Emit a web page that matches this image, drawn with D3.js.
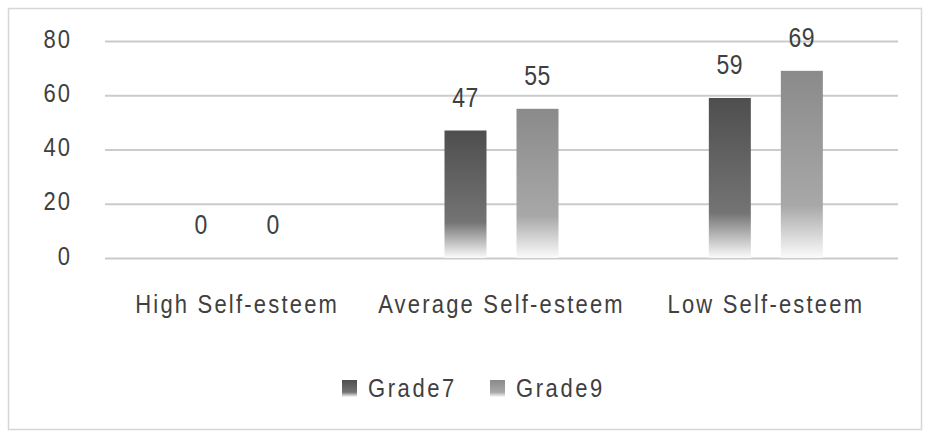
<!DOCTYPE html>
<html>
<head>
<meta charset="utf-8">
<script src="https://cdn.jsdelivr.net/npm/d3@7"></script>
<style>
  html, body { margin: 0; padding: 0; background: #fff; }
  svg text { font-family: "Liberation Sans", Arial, sans-serif; fill: #404040; }
</style>
</head>
<body>
<svg id="chart" width="931" height="438"></svg>
<script>
// Chart data
const categories = ["High Self-esteem", "Average Self-esteem", "Low Self-esteem"];
const seriesNames = ["Grade7", "Grade9"];
const grade7 = [0, 47, 59];
const grade9 = [0, 55, 69];
const yTicks = [0, 20, 40, 60, 80];

const svg = d3.select("#chart");
const W = 931, H = 438;
const margin = { left: 105, right: 33, top: 41, bottom: 180 };
const plotW = W - margin.left - margin.right;
const plotH = H - margin.top - margin.bottom;
const SY = 1.18; // tall, narrow lettering

// Place a text node at a baseline point, stretched vertically
function placeText(sel, x, y) {
  sel.attr("x", 0).attr("y", 0).attr("dy", null)
    .attr("transform", `translate(${x},${y}) scale(1,${SY})`);
}

// Outer frame
svg.append("rect")
  .attr("x", 8.5).attr("y", 8.5).attr("width", 913).attr("height", 421)
  .attr("fill", "#fff").attr("stroke", "#d6d6d6").attr("stroke-width", 1.5);

const defs = svg.append("defs");
const gradStops = {
  Grade7: [["0%", "#4e4e4e"], ["72%", "#747474"], ["100%", "#fbfbfb"]],
  Grade9: [["0%", "#8a8a8a"], ["72%", "#a8a8a8"], ["100%", "#fbfbfb"]]
};
seriesNames.forEach(name => {
  const gr = defs.append("linearGradient").attr("id", "grad-" + name)
    .attr("x1", 0).attr("y1", 0).attr("x2", 0).attr("y2", 1);
  gradStops[name].forEach(([o, c]) => gr.append("stop").attr("offset", o).attr("stop-color", c));
});

const g = svg.append("g").attr("transform", `translate(${margin.left},${margin.top})`);

const x0 = d3.scaleBand().domain(categories).range([0, plotW]);
const x1 = d3.scaleBand().domain(seriesNames).range([-57, 57]).paddingInner(30 / 72).paddingOuter(0);
const y = d3.scaleLinear().domain([0, 80]).range([plotH, 0]);

// Gridlines and value axis labels
const ya = g.append("g").call(d3.axisLeft(y).tickValues(yTicks).tickSize(-plotW));
ya.select(".domain").remove();
ya.selectAll(".tick line").attr("stroke", "#cbcbcb").attr("stroke-width", 1.8);
ya.selectAll(".tick text")
  .attr("font-size", 22).attr("fill", "#404040").attr("letter-spacing", 2)
  .attr("text-anchor", "end")
  .style("font-family", '"Liberation Sans", Arial, sans-serif')
  .each(function () { placeText(d3.select(this), -33, 6); });

// Bars with value labels
const series = { Grade7: grade7, Grade9: grade9 };
const groups = g.selectAll(".grp").data(categories.map((c, i) => ({ c, i }))).join("g")
  .attr("transform", d => `translate(${x0(d.c) + x0.bandwidth() / 2},0)`);

seriesNames.forEach(name => {
  groups.append("rect")
    .attr("x", x1(name))
    .attr("y", d => y(series[name][d.i]))
    .attr("width", x1.bandwidth())
    .attr("height", d => plotH - y(series[name][d.i]))
    .attr("fill", `url(#grad-${name})`);
  groups.append("text")
    .attr("text-anchor", "middle")
    .attr("font-size", 23)
    .attr("letter-spacing", 0.5)
    .text(d => series[name][d.i])
    .each(function (d) {
      placeText(d3.select(this), x1(name) + x1.bandwidth() / 2, y(series[name][d.i]) - 24);
    });
});

// Category labels
const xa = g.append("g").attr("transform", `translate(0,${plotH})`)
  .call(d3.axisBottom(x0).tickSize(0));
xa.select(".domain").remove();
xa.selectAll(".tick text")
  .attr("font-size", 22).attr("fill", "#404040").attr("letter-spacing", 2.2)
  .attr("text-anchor", "middle")
  .style("font-family", '"Liberation Sans", Arial, sans-serif')
  .each(function () { placeText(d3.select(this), 0, 55); });

// Legend
const legend = svg.append("g").attr("transform", "translate(342,380)");
const legendX = { Grade7: 0, Grade9: 148 };
seriesNames.forEach(name => {
  const lg = legend.append("g").attr("transform", `translate(${legendX[name]},0)`);
  lg.append("rect").attr("width", 15).attr("height", 17).attr("fill", `url(#grad-${name})`);
  lg.append("text").attr("font-size", 22).attr("letter-spacing", 2.6).text(name)
    .call(s => placeText(s, 26, 17));
});
</script>
</body>
</html>
